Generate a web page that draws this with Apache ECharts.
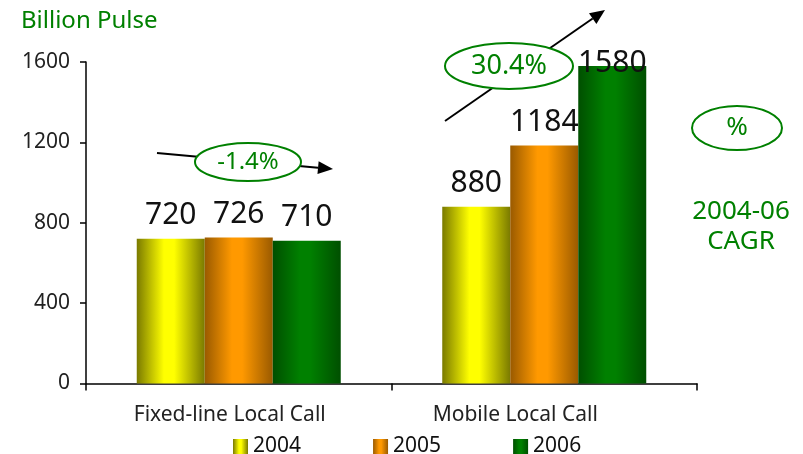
<!DOCTYPE html>
<html>
<head>
<meta charset="utf-8">
<script src="https://cdn.jsdelivr.net/npm/echarts@6/dist/echarts.min.js"></script>
<style>
  html, body { margin: 0; padding: 0; background: #fff; }
  #main { width: 803px; height: 454px; }
</style>
</head>
<body>
<div id="main"></div>
<script>
const categories = ['Fixed-line Local Call', 'Mobile Local Call'];
const years = ['2004', '2005', '2006'];
const values2004 = [720, 880];
const values2005 = [726, 1184];
const values2006 = [710, 1580];
const yTicks = [0, 400, 800, 1200, 1600];

const FONT = 'Noto Sans';
const GREEN = '#008000';

function shade(edge, mid) {
  return new echarts.graphic.LinearGradient(0, 0, 1, 0, [
    { offset: 0, color: edge },
    { offset: 0.4, color: mid },
    { offset: 0.55, color: mid },
    { offset: 1, color: edge }
  ]);
}
const fills = [
  shade('#7a7a00', '#ffff00'),
  shade('#9a5a00', '#ff9900'),
  shade('#004f00', '#008000')
];

const chart = echarts.init(document.getElementById('main'), null, { renderer: 'canvas' });

function makeSeries(name, vals, fill) {
  return {
    name: name,
    type: 'bar',
    barWidth: 68,
    barGap: '0%',
    itemStyle: { color: fill },
    label: {
      show: true,
      position: 'top',
      distance: 8,
      fontFamily: FONT,
      fontSize: 30,
      color: '#111'
    },
    data: vals.map(v => v > yTicks[yTicks.length - 1] * 0.95
      ? { value: v, label: { offset: [0, 20] } }
      : v)
  };
}

// annotation ellipse + text
function bubble(cx, cy, rx, ry, text, size) {
  return [
    { type: 'ellipse', shape: { cx: cx, cy: cy, rx: rx, ry: ry },
      style: { fill: '#fff', stroke: GREEN, lineWidth: 2 }, z: 20 },
    { type: 'text', x: cx, y: cy, z: 21,
      style: { text: text, fill: GREEN, font: size + 'px "' + FONT + '"',
        textAlign: 'center', textVerticalAlign: 'middle' } }
  ];
}
function arrow(x1, y1, x2, y2) {
  const a = Math.atan2(y2 - y1, x2 - x1);
  const L = 15, W = 6.5;
  const bx = x2 - L * Math.cos(a), by = y2 - L * Math.sin(a);
  return [
    { type: 'line', shape: { x1: x1, y1: y1, x2: bx, y2: by },
      style: { stroke: '#000', lineWidth: 2 }, z: 15 },
    { type: 'polygon', z: 15,
      shape: { points: [[x2, y2],
        [bx - W * Math.sin(a), by + W * Math.cos(a)],
        [bx + W * Math.sin(a), by - W * Math.cos(a)]] },
      style: { fill: '#000' } }
  ];
}

const option = {
  animation: false,
  title: {
    text: 'Billion Pulse',
    left: 16, top: 4,
    textStyle: { fontFamily: FONT, fontSize: 24, fontWeight: 'normal', color: GREEN }
  },
  legend: {
    data: years,
    left: 228, top: 431,
    icon: 'rect',
    itemWidth: 15, itemHeight: 15,
    itemGap: 72,
    textStyle: { fontFamily: FONT, fontSize: 21, color: '#111' }
  },
  grid: { left: 86, right: 106, top: 62, bottom: 70.5, containLabel: false },
  xAxis: {
    type: 'category',
    data: [
      { value: categories[0], textStyle: { padding: [0, 18, 0, 0] } },
      { value: categories[1], textStyle: { padding: [0, 58, 0, 0] } }
    ],
    axisLine: { lineStyle: { color: '#000', width: 1.5 } },
    axisTick: { show: true, length: 7, lineStyle: { color: '#000', width: 1.5 } },
    axisLabel: { fontFamily: FONT, fontSize: 21, color: '#222', margin: 21 }
  },
  yAxis: {
    type: 'value',
    min: yTicks[0], max: yTicks[yTicks.length - 1], interval: 400,
    splitLine: { show: false },
    axisLine: { show: true, lineStyle: { color: '#000', width: 1.5 } },
    axisTick: { show: true, length: 6, lineStyle: { color: '#000', width: 1.5 } },
    axisLabel: { fontFamily: FONT, fontSize: 21, color: '#222', margin: 16,
      formatter: v => String(v) }
  },
  series: [
    makeSeries(years[0], values2004, fills[0]),
    makeSeries(years[1], values2005, fills[1]),
    makeSeries(years[2], values2006, fills[2])
  ],
  graphic: [].concat(
    arrow(157, 153, 333, 169),
    bubble(248, 162, 53, 19, '-1.4%', 24),
    arrow(445, 121, 605, 10),
    bubble(509, 66, 64, 23, '30.4%', 27),
    bubble(737, 128, 45, 22, '%', 26),
    [
      { type: 'text', x: 741, y: 212, style: { text: '2004-06', fill: GREEN,
        font: '26px "' + FONT + '"', textAlign: 'center', textVerticalAlign: 'middle' } },
      { type: 'text', x: 741, y: 242, style: { text: 'CAGR', fill: GREEN,
        font: '26px "' + FONT + '"', textAlign: 'center', textVerticalAlign: 'middle' } }
    ]
  )
};

chart.setOption(option);
</script>
</body>
</html>
